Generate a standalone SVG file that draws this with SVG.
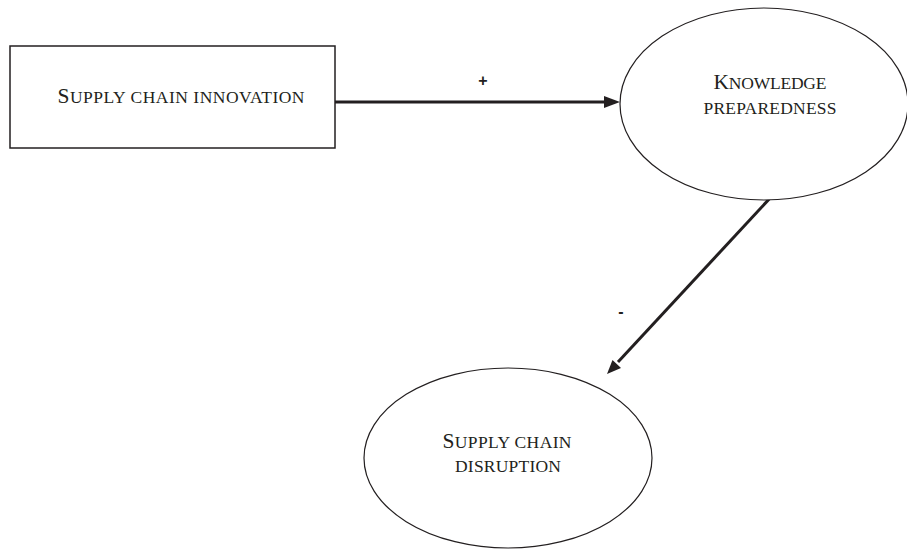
<svg xmlns="http://www.w3.org/2000/svg" width="907" height="550" viewBox="0 0 907 550">
<style>
.node{fill:#fff;stroke:#231f20;}
.lbl{font-family:"Liberation Serif","Times New Roman",serif;fill:#231f20;text-anchor:middle;}
.big{font-size:21.5px;}
.sm{font-size:17.5px;}
.conn{stroke:#231f20;stroke-width:3;fill:none;}
.head{fill:#231f20;stroke:none;}
.sign{font-family:"Liberation Sans",Arial,sans-serif;font-weight:bold;font-size:16px;fill:#231f20;text-anchor:middle;}
</style>
<rect width="907" height="550" fill="#fff"/>
<g id="connectors">
<line class="conn" x1="335" y1="102" x2="606" y2="102"/>
<polygon class="head" points="620,102 604,96 604,108"/>
<line class="conn" x1="772" y1="196" x2="618" y2="362"/>
<polygon class="head" points="607,374 621,368 612.5,360"/>
<text class="sign" x="483" y="86">+</text>
<text class="sign" x="621" y="317">-</text>
</g>
<g id="supply-chain-innovation">
<rect class="node" x="10" y="46" width="325" height="102" stroke-width="1.5"/>
<text class="lbl" x="181" y="103" textLength="247" lengthAdjust="spacing"><tspan class="big">S</tspan><tspan class="sm">UPPLY CHAIN INNOVATION</tspan></text>
</g>
<g id="knowledge-preparedness">
<ellipse class="node" cx="764" cy="104" rx="144" ry="96" stroke-width="1.2"/>
<text class="lbl" x="770" y="89" textLength="113" lengthAdjust="spacing"><tspan class="big">K</tspan><tspan class="sm">NOWLEDGE</tspan></text>
<text class="lbl sm" x="770" y="114" textLength="133" lengthAdjust="spacing">PREPAREDNESS</text>
</g>
<g id="supply-chain-disruption">
<ellipse class="node" cx="508" cy="458" rx="144" ry="90" stroke-width="1.2"/>
<text class="lbl" x="507" y="448" textLength="129" lengthAdjust="spacing"><tspan class="big">S</tspan><tspan class="sm">UPPLY CHAIN</tspan></text>
<text class="lbl sm" x="508" y="472" textLength="106" lengthAdjust="spacing">DISRUPTION</text>
</g>
</svg>
